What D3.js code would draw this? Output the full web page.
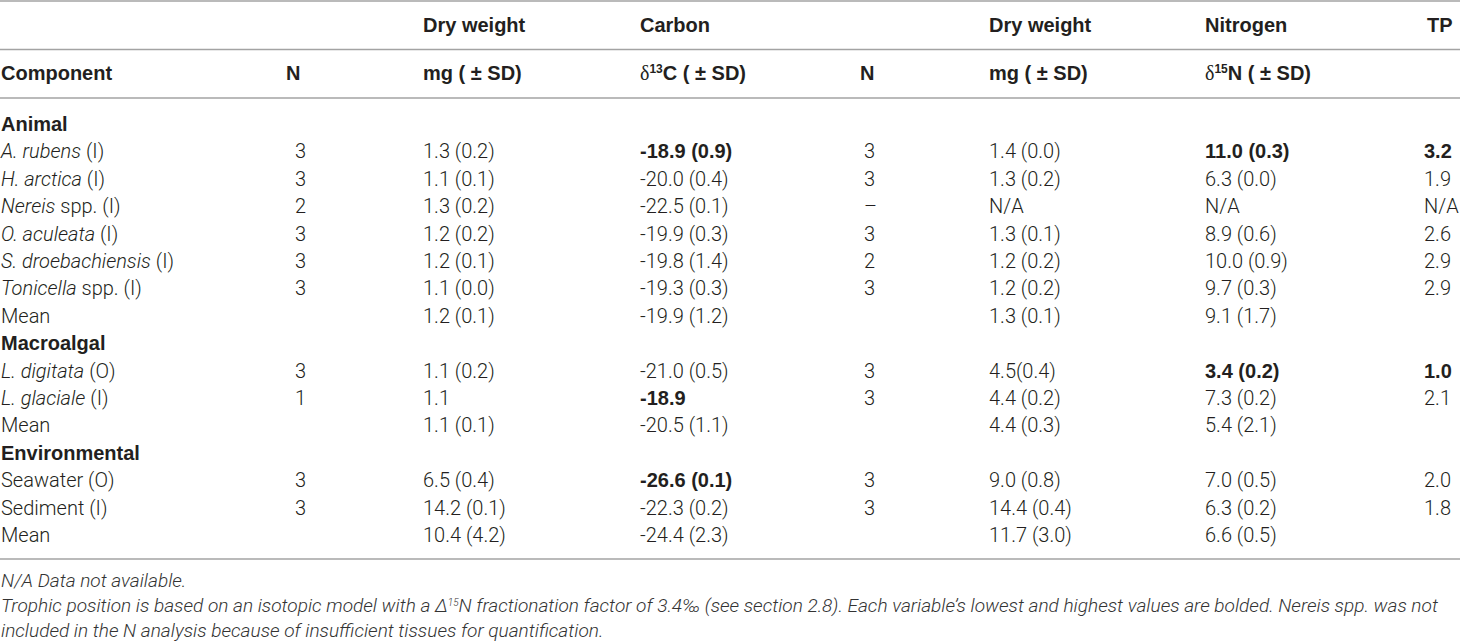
<!DOCTYPE html>
<html>
<head>
<meta charset="utf-8">
<script src="https://cdn.jsdelivr.net/npm/d3@7"></script>
<style>
  body { margin: 0; background: #fff; }
  svg { display: block; }
  .light { font-family: Roboto, "Liberation Sans", sans-serif; font-weight: 300; }
  .bold { font-family: "Liberation Sans", Arial, sans-serif; font-weight: bold; }
</style>
</head>
<body>
<div id="table"></div>
<script>
// groups and rows (index into the body rows, 0..15)
const groups = ["Animal", "Macroalgal", "Environmental"];
const groupRows = [0, 8, 12];

// component labels, *...* marks italic species names
const components = [
  "*A. rubens* (I)", "*H. arctica* (I)", "*Nereis* spp. (I)", "*O. aculeata* (I)",
  "*S. droebachiensis* (I)", "*Tonicella* spp. (I)", "Mean",
  "*L. digitata* (O)", "*L. glaciale* (I)", "Mean",
  "Seawater (O)", "Sediment (I)", "Mean"
];
const componentRows = [1, 2, 3, 4, 5, 6, 7, 9, 10, 11, 13, 14, 15];

const nCarbon = ["3", "3", "2", "3", "3", "3", "", "3", "1", "", "3", "3", ""];
const dryCarbon = ["1.3 (0.2)", "1.1 (0.1)", "1.3 (0.2)", "1.2 (0.2)", "1.2 (0.1)", "1.1 (0.0)", "1.2 (0.1)",
  "1.1 (0.2)", "1.1", "1.1 (0.1)", "6.5 (0.4)", "14.2 (0.1)", "10.4 (4.2)"];
const d13C = ["-18.9 (0.9)", "-20.0 (0.4)", "-22.5 (0.1)", "-19.9 (0.3)", "-19.8 (1.4)", "-19.3 (0.3)", "-19.9 (1.2)",
  "-21.0 (0.5)", "-18.9", "-20.5 (1.1)", "-26.6 (0.1)", "-22.3 (0.2)", "-24.4 (2.3)"];
const nNitrogen = ["3", "3", "–", "3", "2", "3", "", "3", "3", "", "3", "3", ""];
const dryNitrogen = ["1.4 (0.0)", "1.3 (0.2)", "N/A", "1.3 (0.1)", "1.2 (0.2)", "1.2 (0.2)", "1.3 (0.1)",
  "4.5(0.4)", "4.4 (0.2)", "4.4 (0.3)", "9.0 (0.8)", "14.4 (0.4)", "11.7 (3.0)"];
const d15N = ["11.0 (0.3)", "6.3 (0.0)", "N/A", "8.9 (0.6)", "10.0 (0.9)", "9.7 (0.3)", "9.1 (1.7)",
  "3.4 (0.2)", "7.3 (0.2)", "5.4 (2.1)", "7.0 (0.5)", "6.3 (0.2)", "6.6 (0.5)"];
const tp = ["3.2", "1.9", "N/A", "2.6", "2.9", "2.9", "", "1.0", "2.1", "", "2.0", "1.8", ""];

// bolded (lowest / highest) entries, by component index
const boldCarbon = [0, 8, 10];
const boldNitrogen = [0, 7];
const boldTP = [0, 7];

const headerTop = ["", "", "Dry weight", "Carbon", "", "Dry weight", "Nitrogen", "TP"];
const headerSub = ["Component", "N", "mg ( ± SD)", "δ13C ( ± SD)", "N", "mg ( ± SD)", "δ15N ( ± SD)", ""];

const footnotes = [
  "N/A Data not available.",
  "Trophic position is based on an isotopic model with a Δ15N fractionation factor of 3.4‰ (see section 2.8). Each variable’s lowest and highest values are bolded. Nereis spp. was not",
  "included in the N analysis because of insufficient tissues for quantification."
];

const width = 1460, height = 643;
const colKeys = ["comp", "n1", "dry1", "c", "n2", "dry2", "nit", "tp"];

const svg = d3.select("#table").append("svg")
  .attr("width", width)
  .attr("height", height);

const colX = d3.scaleOrdinal().domain(colKeys).range([1, 286, 423, 640, 860, 989, 1205, 1427]);
const valX = d3.scaleOrdinal().domain(colKeys).range([1, 295, 423, 640, 864, 989, 1205, 1424]);
const rowY = d3.scaleLinear().domain([0, 15]).range([131, 542]);
const headY = d3.scaleOrdinal().domain(["top", "sub"]).range([32, 80]);

const fs = 20;
const ink = "#231f20";
const rule = "#a3a3a3";

// rules
const rules = [1, 49.5, 98, 559];
svg.selectAll(".rule")
  .data(rules)
  .join("line")
  .attr("class", "rule")
  .attr("x1", 0).attr("x2", width)
  .attr("y1", d => d).attr("y2", d => d)
  .attr("stroke", rule)
  .attr("stroke-width", 1.6);

// header text, with δ and superscripts
function headerText(sel, str) {
  const m = str.match(/^δ(\d+)(.*)$/);
  if (!m) { sel.text(str); return; }
  sel.append("tspan")
    .attr("font-family", "'Liberation Serif', serif")
    .attr("font-weight", "normal")
    .text("δ");
  sel.append("tspan")
    .attr("font-size", fs * 0.6)
    .attr("dy", -7)
    .text(m[1]);
  sel.append("tspan")
    .attr("dy", 7)
    .text(m[2]);
}

[["top", headerTop], ["sub", headerSub]].forEach(([k, labels]) => {
  svg.append("g").selectAll("text")
    .data(labels.map((l, i) => ({ l, key: colKeys[i] })).filter(d => d.l))
    .join("text")
    .attr("class", "bold")
    .attr("x", d => colX(d.key))
    .attr("y", headY(k))
    .attr("font-size", fs)
    .attr("fill", ink)
    .each(function (d) { headerText(d3.select(this), d.l); });
});

// group rows
svg.append("g").selectAll("text")
  .data(groups)
  .join("text")
  .attr("class", "bold")
  .attr("x", colX("comp"))
  .attr("y", (d, i) => rowY(groupRows[i]))
  .attr("font-size", fs)
  .attr("fill", ink)
  .text(d => d);

// component labels
svg.append("g").selectAll("text")
  .data(components)
  .join("text")
  .attr("class", "light")
  .attr("x", colX("comp"))
  .attr("y", (d, i) => rowY(componentRows[i]))
  .attr("font-size", fs)
  .attr("fill", ink)
  .each(function (d) {
    const t = d3.select(this);
    d.split("*").forEach((part, j) => {
      if (!part) return;
      t.append("tspan")
        .attr("font-style", j % 2 === 1 ? "italic" : "normal")
        .text(part);
    });
  });

// value columns
const columns = [
  { key: "n1", vals: nCarbon, bold: [] },
  { key: "dry1", vals: dryCarbon, bold: [] },
  { key: "c", vals: d13C, bold: boldCarbon },
  { key: "n2", vals: nNitrogen, bold: [] },
  { key: "dry2", vals: dryNitrogen, bold: [] },
  { key: "nit", vals: d15N, bold: boldNitrogen },
  { key: "tp", vals: tp, bold: boldTP }
];

columns.forEach(col => {
  svg.append("g").selectAll("text")
    .data(col.vals.map((v, i) => ({ v, i })).filter(d => d.v))
    .join("text")
    .attr("class", d => col.bold.includes(d.i) ? "bold" : "light")
    .attr("x", valX(col.key))
    .attr("y", d => rowY(componentRows[d.i]))
    .attr("font-size", fs)
    .attr("fill", ink)
    .text(d => d.v);
});

// footnotes
const noteY = d3.scaleLinear().domain([0, 2]).range([587, 637]);
const notes = svg.append("g").selectAll("text")
  .data(footnotes)
  .join("text")
  .attr("class", "light")
  .attr("x", 1)
  .attr("y", (d, i) => noteY(i))
  .attr("font-size", 17)
  .attr("font-style", "italic")
  .attr("fill", "#333")
  .each(function (d) {
    const t = d3.select(this);
    const m = d.match(/^(.*)Δ15N(.*)$/);
    if (!m) { t.text(d); return; }
    t.append("tspan").text(m[1] + "Δ");
    t.append("tspan").attr("font-size", 10).attr("dy", -6).text("15");
    t.append("tspan").attr("dy", 6).text("N" + m[2]);
  });

// fit the long footnote line to the table width
const longNote = notes.filter((d, i) => i === 1).node();
const w = longNote.getComputedTextLength();
const nf = 17 * 1439 / w;
notes.attr("font-size", nf);
</script>
</body>
</html>
